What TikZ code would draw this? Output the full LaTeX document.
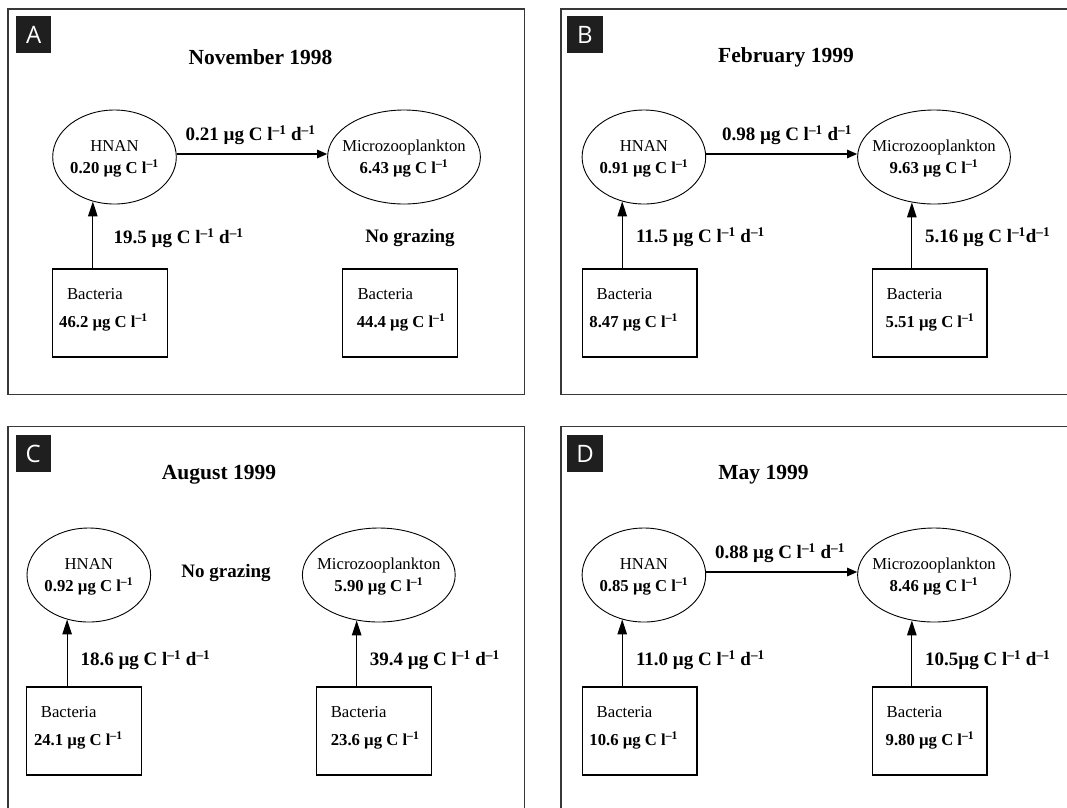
\documentclass[tikz,border=0pt]{standalone}
\usepackage{fontspec}
\setmainfont{Liberation Serif}
\newfontfamily\tagfont{Open Sans}
\usetikzlibrary{shapes.geometric,arrows.meta,calc}
\begin{document}
\begin{tikzpicture}[x=1pt,y=-1pt,
 frame/.style={draw=black!78, line width=1.3pt},
 tag/.style={fill=black!88, text=white, minimum width=35.5pt, minimum height=37pt, inner sep=0pt, font=\tagfont\fontsize{24}{24}\selectfont},
 pool/.style={draw, ellipse, line width=0.9pt, inner sep=0pt, minimum height=94pt},
 hnan/.style={pool, minimum width=123.6pt},
 micro/.style={pool, minimum width=152.8pt},
 bbox/.style={draw, line width=1.2pt, minimum width=114.8pt, minimum height=88pt, inner sep=0pt},
 title/.style={font=\bfseries\fontsize{21.5}{24}\selectfont, inner sep=0pt},
 flowlab/.style={font=\bfseries\fontsize{19}{22}\selectfont, inner sep=0pt},
 pooltext/.style={align=center, inner sep=0pt, yshift=-2pt, font=\fontsize{16.7}{22}\selectfont},
 boxname/.style={anchor=west, inner sep=0pt, font=\fontsize{16.7}{20}\selectfont},
 boxval/.style={anchor=west, inner sep=0pt, font=\bfseries\fontsize{16.7}{20}\selectfont},
 uparrow/.style={line width=1.2pt, -{Triangle[length=15pt,width=9.5pt]}},
 sidearrow/.style={line width=1.2pt, -{Triangle[length=10pt,width=8.5pt]}},
]
\useasboundingbox (0,0) rectangle (1067,807);
\fill[white] (0,0) rectangle (1067,807);
\clip (0,0) rectangle (1067,807);

% ---------- frames ----------
\draw[frame] (8,9) rectangle (524.5,394.5);
\draw[frame] (1075,9) -- (561,9) -- (561,394.5) -- (1075,394.5);
\draw[frame] (8,815) -- (8,426.5) -- (524.5,426.5) -- (524.5,815);
\draw[frame] (561,815) -- (561,426.5) -- (1075,426.5);

% ---------- panel A ----------
\node[tag] (tA) at (33.6,34.5) {A};
\node[title] (tiA) at (260.5,57) {November 1998};
\node[hnan] (hA) at (114.5,157) {};
\node[pooltext] (hAt) at (hA.center) {HNAN\\\textbf{0.20 µg C l\textsuperscript{–1}}};
\node[micro] (mA) at (404,157) {};
\node[pooltext] (mAt) at (mA.center) {Microzooplankton\\\textbf{6.43 µg C l\textsuperscript{–1}}};
\node[bbox] (bA1) at (110.1,313) {};
\node[boxname] (bA1n) at ($(bA1.north west)+(14.8,26)$) {Bacteria};
\node[boxval] (bA1v) at ($(bA1.north west)+(6.9,54)$) {46.2 µg C l\textsuperscript{–1}};
\node[bbox] (bA2) at (400.1,313) {};
\node[boxname] (bA2n) at ($(bA2.north west)+(15.2,26)$) {Bacteria};
\node[boxval] (bA2v) at ($(bA2.north west)+(14.5,54)$) {44.4 µg C l\textsuperscript{–1}};
\draw[sidearrow] ([yshift=3pt]hA.east) -- ([yshift=3pt]mA.west);
\draw[uparrow] (bA1.north -| hA.244) -- (hA.244);
\node[flowlab] (fA1) at (250.6,135) {0.21 µg C l\textsuperscript{–1} d\textsuperscript{–1}};
\node[flowlab, anchor=west] (fA2) at (113.5,238) {19.5 µg C l\textsuperscript{–1} d\textsuperscript{–1}};
\node[flowlab] (ngA) at (410,238) {No grazing};

% ---------- panel B ----------
\node[tag] (tB) at (585,34.5) {B};
\node[title] (tiB) at (786,57) {February 1999};
\node[hnan] (hB) at (643.9,157) {};
\node[pooltext] (hBt) at (hB.center) {HNAN\\\textbf{0.91 µg C l\textsuperscript{–1}}};
\node[micro] (mB) at (934,157) {};
\node[pooltext] (mBt) at (mB.center) {Microzooplankton\\\textbf{9.63 µg C l\textsuperscript{–1}}};
\node[bbox] (bB1) at (639.5,313) {};
\node[boxname] (bB1n) at ($(bB1.north west)+(15,26)$) {Bacteria};
\node[boxval] (bB1v) at ($(bB1.north west)+(7.7,54)$) {8.47 µg C l\textsuperscript{–1}};
\node[bbox] (bB2) at (929.5,313) {};
\node[boxname] (bB2n) at ($(bB2.north west)+(15,26)$) {Bacteria};
\node[boxval] (bB2v) at ($(bB2.north west)+(14,54)$) {5.51 µg C l\textsuperscript{–1}};
\draw[sidearrow] ([yshift=3pt]hB.east) -- ([yshift=3pt]mB.west);
\draw[uparrow] (bB1.north -| hB.244) -- (hB.244);
\draw[uparrow] (bB2.north -| mB.244) -- (mB.244);
\node[flowlab] (fB1) at (787,135) {0.98 µg C l\textsuperscript{–1} d\textsuperscript{–1}};
\node[flowlab, anchor=west] (fB2) at (635.8,237) {11.5 µg C l\textsuperscript{–1} d\textsuperscript{–1}};
\node[flowlab, anchor=west] (fB3) at (924.9,237) {5.16 µg C l\textsuperscript{–1}d\textsuperscript{–1}};

% ---------- panel C ----------
\node[tag] (tC) at (33.3,453.5) {C};
\node[title] (tiC) at (219,475) {August 1999};
\node[hnan] (hC) at (88.8,575) {};
\node[pooltext] (hCt) at (hC.center) {HNAN\\\textbf{0.92 µg C l\textsuperscript{–1}}};
\node[micro] (mC) at (378.8,575) {};
\node[pooltext] (mCt) at (mC.center) {Microzooplankton\\\textbf{5.90 µg C l\textsuperscript{–1}}};
\node[bbox] (bC1) at (84.2,731) {};
\node[boxname] (bC1n) at ($(bC1.north west)+(14.5,26)$) {Bacteria};
\node[boxval] (bC1v) at ($(bC1.north west)+(7.6,54)$) {24.1 µg C l\textsuperscript{–1}};
\node[bbox] (bC2) at (374.1,731) {};
\node[boxname] (bC2n) at ($(bC2.north west)+(14.5,26)$) {Bacteria};
\node[boxval] (bC2v) at ($(bC2.north west)+(14.5,54)$) {23.6 µg C l\textsuperscript{–1}};
\draw[uparrow] (bC1.north -| hC.244) -- (hC.244);
\draw[uparrow] (bC2.north -| mC.244) -- (mC.244);
\node[flowlab] (ngC) at (226,573) {No grazing};
\node[flowlab, anchor=west] (fC1) at (80.3,660) {18.6 µg C l\textsuperscript{–1} d\textsuperscript{–1}};
\node[flowlab, anchor=west] (fC2) at (369.7,660) {39.4 µg C l\textsuperscript{–1} d\textsuperscript{–1}};

% ---------- panel D ----------
\node[tag] (tD) at (585,453.5) {D};
\node[title] (tiD) at (763.5,475) {May 1999};
\node[hnan] (hD) at (643.9,575) {};
\node[pooltext] (hDt) at (hD.center) {HNAN\\\textbf{0.85 µg C l\textsuperscript{–1}}};
\node[micro] (mD) at (934,575) {};
\node[pooltext] (mDt) at (mD.center) {Microzooplankton\\\textbf{8.46 µg C l\textsuperscript{–1}}};
\node[bbox] (bD1) at (639.5,731) {};
\node[boxname] (bD1n) at ($(bD1.north west)+(15,26)$) {Bacteria};
\node[boxval] (bD1v) at ($(bD1.north west)+(7.7,54)$) {10.6 µg C l\textsuperscript{–1}};
\node[bbox] (bD2) at (929.5,731) {};
\node[boxname] (bD2n) at ($(bD2.north west)+(15,26)$) {Bacteria};
\node[boxval] (bD2v) at ($(bD2.north west)+(14,54)$) {9.80 µg C l\textsuperscript{–1}};
\draw[sidearrow] ([yshift=3pt]hD.east) -- ([yshift=3pt]mD.west);
\draw[uparrow] (bD1.north -| hD.244) -- (hD.244);
\draw[uparrow] (bD2.north -| mD.244) -- (mD.244);
\node[flowlab] (fD1) at (780,553) {0.88 µg C l\textsuperscript{–1} d\textsuperscript{–1}};
\node[flowlab, anchor=west] (fD2) at (635.8,660) {11.0 µg C l\textsuperscript{–1} d\textsuperscript{–1}};
\node[flowlab, anchor=west] (fD3) at (925,660) {10.5µg C l\textsuperscript{–1} d\textsuperscript{–1}};
\end{tikzpicture}
\end{document}
